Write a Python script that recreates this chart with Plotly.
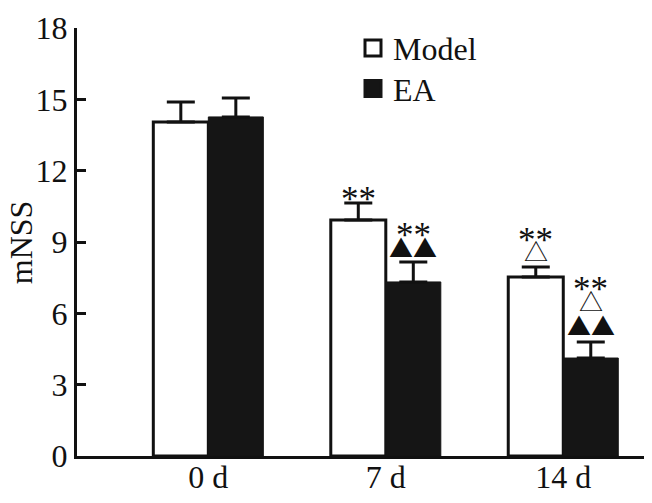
import plotly.graph_objects as go

categories = ["0 d", "7 d", "14 d"]
model_mean = [14.05, 9.92, 7.53]
model_err = [0.84, 0.72, 0.42]
ea_mean = [14.26, 7.32, 4.12]
ea_err = [0.80, 0.84, 0.67]
y_ticks = [0, 3, 6, 9, 12, 15, 18]
y_title = "mNSS"

# significance marks: text, category index, series, y value
mark_text = ["**", "**", "▲▲", "**", "△", "**", "△", "▲▲"]
mark_cat = [1, 1, 1, 2, 2, 2, 2, 2]
mark_series = ["Model", "EA", "EA", "Model", "Model", "EA", "EA", "EA"]
mark_y = [11.14, 9.59, 8.79, 9.42, 8.66, 7.36, 6.56, 5.51]

SERIF = "Liberation Serif"
INK = "#111"
fig = go.Figure()
fig.add_trace(go.Bar(
    x=categories, y=model_mean, name="Model", showlegend=False,
    marker=dict(color="white", line=dict(color=INK, width=3)),
    error_y=dict(type="data", array=model_err, arrayminus=[0, 0, 0], symmetric=False,
                 color=INK, thickness=3, width=14),
))
fig.add_trace(go.Bar(
    x=categories, y=ea_mean, name="EA", showlegend=False,
    marker=dict(color="#151515", line=dict(color="#151515", width=1)),
    error_y=dict(type="data", array=ea_err, arrayminus=[0, 0, 0], symmetric=False,
                 color=INK, thickness=3, width=14),
))
# legend entries
fig.add_trace(go.Scatter(x=[None], y=[None], mode="markers", name="Model", legend="legend",
                         marker=dict(symbol="square", size=16, color="white",
                                     line=dict(color=INK, width=3))))
fig.add_trace(go.Scatter(x=[None], y=[None], mode="markers", name="EA", legend="legend2",
                         marker=dict(symbol="square", size=16, color="#151515",
                                     line=dict(color="#151515", width=3))))

half = 0.155
ann = []
for t, c, s, y in zip(mark_text, mark_cat, mark_series, mark_y):
    x = c - half if s == "Model" else c + half
    if t == "**":
        font = dict(family=SERIF, size=35, color=INK)
        ysh = -8
    else:
        font = dict(family="Noto Sans CJK SC", size=24, color=INK)
        ysh = 0
    ann.append(dict(xref="x", yref="y", x=x, y=y, text=t, showarrow=False,
                    yanchor="middle", yshift=ysh, borderpad=0, font=font))
# y-axis title
ann.append(dict(xref="paper", yref="paper", x=-0.097, y=0.5, text=y_title,
                textangle=-90, showarrow=False, xanchor="center", yanchor="middle",
                borderpad=0, font=dict(family=SERIF, size=32, color=INK)))

leg_common = dict(xanchor="left", yanchor="middle", bgcolor="rgba(0,0,0,0)",
                  font=dict(family=SERIF, size=32, color=INK), itemwidth=30)
fig.update_layout(
    width=644, height=495,
    margin=dict(l=69, r=0, t=20, b=47, autoexpand=False),
    paper_bgcolor="white", plot_bgcolor="white",
    barmode="group", bargap=0.38, bargroupgap=0,
    font=dict(family=SERIF, size=32, color=INK),
    showlegend=True,
    legend=dict(x=0.48, y=0.953, **leg_common),
    legend2=dict(x=0.48, y=0.858, **leg_common),
    xaxis=dict(range=[-0.74, 2.5], showline=True, linecolor=INK, linewidth=3,
               ticks="", showgrid=False, zeroline=False, ticklabelstandoff=-9,
               tickfont=dict(family=SERIF, size=32, color=INK)),
    yaxis=dict(range=[0, 18], tickvals=y_ticks, showline=True, linecolor=INK,
               linewidth=3, ticks="inside", ticklen=9, tickwidth=3, tickcolor=INK,
               showgrid=False, zeroline=False, automargin=False,
               tickfont=dict(family=SERIF, size=32, color=INK)),
    annotations=ann,
)
fig.write_html("out.html")
